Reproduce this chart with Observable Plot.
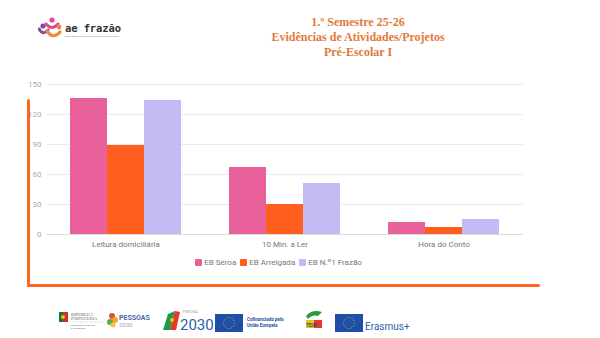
<!DOCTYPE html>
<html>
<head>
<meta charset="utf-8">
<script src="https://cdn.jsdelivr.net/npm/d3@7"></script>
<script src="https://cdn.jsdelivr.net/npm/@observablehq/plot@0.6"></script>
<style>
  html, body { margin: 0; padding: 0; background: #fff; }
  #page { position: relative; width: 600px; height: 338px; overflow: hidden; background: #fff; font-family: Roboto, "Noto Sans", sans-serif; }
  #title { position: absolute; left: 208px; width: 300px; top: 15px; text-align: center; font-family: "Liberation Serif", "DejaVu Serif", serif; font-weight: bold; font-size: 12px; line-height: 15px; color: #E07A3C; }
  #chart { position: absolute; left: 0; top: 70px; }
  #legend { position: absolute; left: 0; width: 557px; top: 258px; text-align: center; font-size: 8px; color: #777; }
  #legend span.item { display: inline-flex; align-items: center; margin: 0 2px; }
  #legend span.sw { display: inline-block; width: 7px; height: 7px; margin-right: 2px; border-radius: 1px; }
  .frame { position: absolute; background: #FF6524; border-radius: 2px; }
  #logo { position: absolute; left: 38px; top: 16px; }
  #footer { position: absolute; left: 0; top: 306px; }
</style>
</head>
<body>
<div id="page">
  <svg id="logo" width="90" height="26" viewBox="0 0 90 26">
    <circle cx="5" cy="10" r="2.6" fill="#7B4FA0"/>
    <path d="M1 13 Q5 20 10 14" stroke="#7B4FA0" stroke-width="3" fill="none" stroke-linecap="round"/>
    <circle cx="14" cy="4" r="2.6" fill="#E24A8D"/>
    <path d="M8 8 Q14 15 20 8" stroke="#E24A8D" stroke-width="3" fill="none" stroke-linecap="round"/>
    <circle cx="21" cy="11" r="2.4" fill="#F08A3A"/>
    <path d="M9 15 Q15 24 22 16" stroke="#F08A3A" stroke-width="3.2" fill="none" stroke-linecap="round"/>
    <text x="27" y="16" font-family="DejaVu Sans Mono, monospace" font-weight="bold" font-size="10.5" fill="#333" textLength="56">ae frazão</text>
    <text x="27" y="21" font-family="Roboto, sans-serif" font-size="2.2" fill="#888">AGRUPAMENTO DE ESCOLAS DE PAÇOS DE FERREIRA</text>
  </svg>
  <div id="title">1.º Semestre 25-26<br>Evidências de Atividades/Projetos<br>Pré-Escolar I</div>
  <div id="chart"></div>
  <div id="legend"></div>
  <div class="frame" style="left:26.5px; top:99px; width:3px; height:188px;"></div>
  <div class="frame" style="left:26.5px; top:283.5px; width:513px; height:3px;"></div>
  <svg id="footer" width="600" height="30" viewBox="0 0 600 30">
    <rect x="59" y="6" width="4" height="10" fill="#0a7a3a"/>
    <rect x="63" y="6" width="5" height="10" fill="#d62b2b"/>
    <circle cx="63" cy="11" r="2" fill="#f2c200"/>
    <text x="71" y="10" font-family="Liberation Serif, serif" font-size="4" fill="#555">REPÚBLICA</text>
    <text x="71" y="14" font-family="Liberation Serif, serif" font-size="4" fill="#555">PORTUGUESA</text>
    <line x1="71" y1="16" x2="104" y2="16" stroke="#ccc" stroke-width="0.5"/>
    <text x="71" y="20" font-family="Roboto, sans-serif" font-size="2.5" fill="#777">EDUCAÇÃO, CIÊNCIA</text>
    <text x="71" y="23" font-family="Roboto, sans-serif" font-size="2.5" fill="#777">E INOVAÇÃO</text>
    <circle cx="112" cy="10" r="3" fill="#e64c3c"/>
    <circle cx="115" cy="14" r="3" fill="#f5a623"/>
    <circle cx="110" cy="16" r="3" fill="#4caf50"/>
    <circle cx="113" cy="19" r="2.5" fill="#f6c343"/>
    <text x="119" y="14" font-family="Roboto, sans-serif" font-weight="bold" font-size="7" fill="#4f5fa8">PESSOAS</text>
    <text x="119" y="21" font-family="Roboto, sans-serif" font-size="6" fill="#9aa0c8">2030</text>
    <path d="M163 24 L168 8 L175 5 L170 24 Z" fill="#1f9a4a"/>
    <path d="M170 24 L175 5 L180 6 L176 24 Z" fill="#e23a2e"/>
    <circle cx="172" cy="14" r="2" fill="#f5c400"/>
    <text x="183" y="7" font-family="Roboto, sans-serif" font-size="3" fill="#999">PORTUGAL</text>
    <text x="180" y="24" font-family="Roboto, sans-serif" font-size="15" fill="#2d5fa8">2030</text>
    <rect x="215" y="8" width="28" height="18" fill="#1f4fa8"/>
    <circle cx="229" cy="17" r="5.5" fill="none" stroke="#f6d800" stroke-width="0.8" stroke-dasharray="1 1.8"/>
    <text x="247" y="15" font-family="Roboto, sans-serif" font-weight="bold" font-size="4.5" fill="#1f4fa8">Cofinanciado pela</text>
    <text x="247" y="21" font-family="Roboto, sans-serif" font-weight="bold" font-size="4.5" fill="#1f4fa8">União Europeia</text>
    <path d="M306 10 Q312 3 322 6 L318 10 Q312 8 308 13 Z" fill="#2e9a3e"/>
    <rect x="306" y="14" width="8" height="8" fill="#f5c400"/>
    <rect x="314" y="14" width="8" height="8" fill="#e23a2e"/>
    <text x="306" y="21" font-family="Roboto, sans-serif" font-weight="bold" font-size="5" fill="#1f4fa8">TEIP</text>
    <rect x="335" y="8" width="28" height="18" fill="#1f4fa8"/>
    <circle cx="349" cy="17" r="5.5" fill="none" stroke="#f6d800" stroke-width="0.8" stroke-dasharray="1 1.8"/>
    <text x="365" y="24" font-family="Roboto, sans-serif" font-size="10" fill="#2d5fa8">Erasmus+</text>
  </svg>
</div>
<script>
const categories = ["Leitura domiciliária", "10 Min. a Ler", "Hora do Conto"];
const series = ["EB Seroa", "EB Arreigada", "EB N.º1 Frazão"];
const seroa = [136, 67, 12];
const arreigada = [89, 30, 7];
const frazao = [134, 51, 15];
const colors = ["#E9619A", "#FF5E1F", "#C4BBF4"];
const yTicks = [0, 30, 60, 90, 120, 150];

const values = [seroa, arreigada, frazao];
const data = categories.flatMap((c, i) => series.map((s, j) => ({category: c, series: s, value: values[j][i]})));

const chart = Plot.plot({
  width: 600,
  height: 190,
  marginTop: 14,
  marginBottom: 26,
  marginLeft: 45,
  marginRight: 77,
  style: {fontFamily: "Roboto, sans-serif", background: "transparent"},
  fx: {domain: categories, padding: 0, label: null},
  x: {domain: series, paddingInner: 0, paddingOuter: 0.635, axis: null},
  y: {domain: [0, 150], label: null, axis: null},
  color: {domain: series, range: colors},
  marks: [
    Plot.gridY(yTicks, {stroke: "#ececec", strokeOpacity: 1}),
    Plot.axisY(yTicks, {tickSize: 0, tickPadding: 5, fill: "#aaa", fontSize: 8, label: null}),
    Plot.barY(data, {fx: "category", x: "series", y: "value", fill: "series"}),
    Plot.ruleY([0], {stroke: "#ddd"}),
    Plot.axisFx({anchor: "bottom", tickSize: 0, tickPadding: 7, fill: "#777", fontSize: 8, label: null})
  ]
});
document.getElementById("chart").appendChild(chart);

const legend = document.getElementById("legend");
series.forEach((s, i) => {
  const item = document.createElement("span");
  item.className = "item";
  const sw = document.createElement("span");
  sw.className = "sw";
  sw.style.background = colors[i];
  item.appendChild(sw);
  item.appendChild(document.createTextNode(s));
  legend.appendChild(item);
});
</script>
</body>
</html>
